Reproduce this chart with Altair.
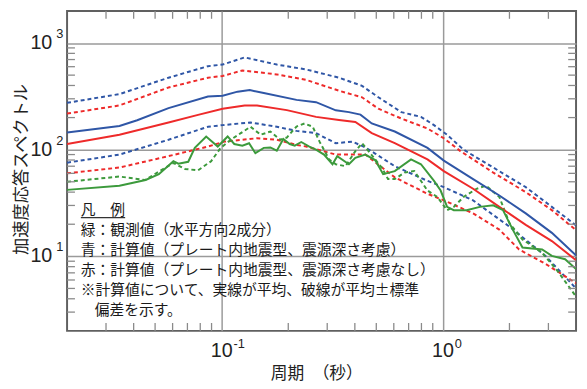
import altair as alt
import pandas as pd

W, H = 517, 325

# ---- data (period [s], spectrum) ----
green_mean_T = [0.02, 0.0345, 0.0453, 0.052, 0.0605, 0.0637, 0.0706, 0.0756, 0.0851, 0.096, 0.1064, 0.114, 0.124,
                0.133, 0.142, 0.155, 0.166, 0.1775, 0.190, 0.203, 0.214, 0.229, 0.249, 0.267, 0.29, 0.317, 0.333,
                0.376, 0.402, 0.446, 0.494, 0.537, 0.606, 0.718, 0.796, 0.912, 0.977, 1.045, 1.12, 1.28, 1.47,
                1.69, 1.87, 2.07, 2.29, 2.81, 3.11, 3.57, 4.0]
green_mean_V = [42, 46, 52, 59, 78, 74, 77, 104, 133, 107, 133, 113, 109,
                115, 93, 104, 105, 98, 126, 113, 109, 118, 107, 100, 90, 73, 87,
                73, 84, 90, 80, 59, 63, 81, 73, 51, 41.4, 29.1, 27.1, 27.1, 29.1,
                30.1, 27.1, 17.8, 12.1, 11.6, 10.1, 9.4, 7.6]

green_sd_T = [0.02, 0.0345, 0.045, 0.0605, 0.0682, 0.0782, 0.0896, 0.099, 0.110, 0.122, 0.135, 0.150, 0.166,
              0.184, 0.197, 0.218, 0.237, 0.258, 0.277, 0.306, 0.328, 0.363, 0.402, 0.431, 0.461, 0.529, 0.565,
              0.606, 0.671, 0.743, 0.852, 0.944, 1.045, 1.12, 1.24, 1.42, 1.57, 1.80, 2.00, 2.29, 2.81, 3.33, 4.0]
green_sd_V = [50, 56, 52, 75, 66, 64, 78, 104, 124, 143, 164, 138, 148,
              124, 130, 165, 176, 164, 119, 81, 73, 70, 97, 115, 97, 68, 53,
              53, 61, 63, 41.4, 36, 27.1, 29.1, 36, 43, 46, 36, 20.5, 14.4, 10.8, 7.1, 4.2]

blue_mean_T = [0.02, 0.0345, 0.0415, 0.0575, 0.0867, 0.101, 0.118, 0.134, 0.155, 0.218, 0.267, 0.328, 0.376,
               0.424, 0.477, 0.606, 0.852, 1.01, 1.37, 1.80, 2.37, 3.11, 4.0]
blue_mean_V = [145, 167, 189, 245, 315, 321, 350, 362, 340, 293, 279, 234, 225,
               213, 176, 148, 104, 79, 53, 37.2, 25.3, 16.6, 10.2]

blue_up_T = [0.02, 0.0345, 0.0575, 0.0867, 0.101, 0.127, 0.1775, 0.241, 0.339, 0.431, 0.511, 0.649, 0.796,
             0.912, 1.045, 1.24, 1.69, 2.37, 3.11, 4.0]
blue_up_V = [275, 332, 473, 607, 628, 734, 628, 565, 473, 397, 310, 225, 203,
             170, 138, 100, 68, 44.5, 29.1, 19.5]

blue_lo_T = [0.02, 0.0345, 0.0575, 0.0867, 0.101, 0.135, 0.1775, 0.218, 0.267, 0.328, 0.39, 0.446, 0.494,
             0.606, 0.852, 1.01, 1.37, 1.69, 2.0, 2.91, 4.0]
blue_lo_V = [75.5, 90, 124, 164, 170, 180, 164, 150, 143, 115, 119, 105, 92,
             70, 51, 44.5, 33.5, 24.4, 19, 10.1, 5.0]

red_mean_T = [0.02, 0.0345, 0.0575, 0.0782, 0.101, 0.127, 0.1445, 0.197, 0.267, 0.339, 0.402, 0.477, 0.606,
              0.852, 1.01, 1.37, 1.80, 2.37, 3.11, 4.0]
red_mean_V = [113, 138, 180, 212, 242, 260, 260, 235, 203, 190, 182, 143, 115,
              81, 63, 43, 29.1, 19.7, 13.9, 9.2]

red_up_T = [0.02, 0.0345, 0.0575, 0.0867, 0.101, 0.124, 0.1775, 0.241, 0.339, 0.431, 0.511, 0.649, 0.852,
            1.01, 1.20, 1.69, 2.37, 3.11, 4.0]
red_up_V = [218, 260, 383, 473, 491, 553, 508, 451, 357, 310, 242, 196, 158,
            128, 97, 61, 40, 27.1, 17.6]

red_lo_T = [0.02, 0.0345, 0.0575, 0.0867, 0.1028, 0.1445, 0.1775, 0.218, 0.241, 0.328, 0.446, 0.606, 0.852,
            1.01, 1.37, 1.80, 2.21, 2.91, 4.0]
red_lo_V = [60, 68, 87, 107, 119, 128, 124, 111, 107, 90, 90, 55, 38.6,
            33.5, 25.3, 17.8, 11.6, 8.5, 5.6]

x_decades = [0.1, 1]
x_exps = ["-1", "0"]
y_decades = [10, 100, 1000]
y_exps = ["1", "2", "3"]
x_minor = [0.03, 0.04, 0.05, 0.06, 0.07, 0.08, 0.09, 0.2, 0.3, 0.4, 0.5, 0.6, 0.7, 0.8, 0.9, 2, 3]
y_minor = [3, 4, 5, 6, 7, 8, 9, 20, 30, 40, 50, 60, 70, 80, 90, 200, 300, 400, 500, 600, 700, 800, 900]

legend_lines = ["凡　例",
                "緑：観測値（水平方向2成分）",
                "青：計算値（プレート内地震型、震源深さ考慮）",
                "赤：計算値（プレート内地震型、震源深さ考慮なし）",
                "※計算値について、実線が平均、破線が平均±標準"]
legend_last = "偏差を示す。"
x_title = "周期　（秒）"
y_title = "加速度応答スペクトル"

BLUE = "#2f56a6"
RED = "#ee2a2a"
GREEN = "#3c9a3c"
GRID = "#9a9a9a"
NUMFONT = "Liberation Sans Narrow, Arial Narrow, Liberation Sans"
JPFONT = "Noto Sans CJK JP"

xscale = alt.Scale(type="log", domain=[0.02, 4], nice=False)
yscale = alt.Scale(type="log", domain=[2, 2000], nice=False)
xaxis = alt.Axis(values=x_decades, grid=True, gridColor=GRID, gridWidth=1.5, labels=False,
                 ticks=False, domain=False, title=None)
yaxis = alt.Axis(values=y_decades, grid=True, gridColor=GRID, gridWidth=1.5, labels=False,
                 ticks=False, domain=False, title=None)
X = lambda: alt.X("x:Q", scale=xscale, axis=xaxis)
Y = lambda: alt.Y("y:Q", scale=yscale, axis=yaxis)


def line(T, V, color, dash=None):
    kw = dict(color=color, strokeWidth=2, clip=True)
    if dash:
        kw["strokeDash"] = dash
    return alt.Chart(pd.DataFrame({"x": T, "y": V})).mark_line(**kw).encode(x=X(), y=Y())


D = [4, 3]
layers = [
    line(blue_up_T, blue_up_V, BLUE, D),
    line(blue_lo_T, blue_lo_V, BLUE, D),
    line(red_up_T, red_up_V, RED, D),
    line(red_lo_T, red_lo_V, RED, D),
    line(green_sd_T, green_sd_V, GREEN, D),
    line(blue_mean_T, blue_mean_V, BLUE),
    line(red_mean_T, red_mean_V, RED),
    line(green_mean_T, green_mean_V, GREEN),
]

# minor ticks (inside)
TL = 8
tick_style = dict(color="#8a8a8a", strokeWidth=1.3)
xm = pd.DataFrame({"x": x_minor})
ym = pd.DataFrame({"y": y_minor})
layers += [
    alt.Chart(xm).mark_rule(**tick_style).encode(x=X(), y=alt.value(H), y2=alt.value(H - TL)),
    alt.Chart(xm).mark_rule(**tick_style).encode(x=X(), y=alt.value(0), y2=alt.value(TL)),
    alt.Chart(ym).mark_rule(**tick_style).encode(y=Y(), x=alt.value(0), x2=alt.value(TL)),
    alt.Chart(ym).mark_rule(**tick_style).encode(y=Y(), x=alt.value(W), x2=alt.value(W - TL)),
]

# tick labels 10^n
xl = pd.DataFrame({"x": x_decades, "t": ["10"] * len(x_decades), "e": x_exps})
yl = pd.DataFrame({"y": y_decades, "t": ["10"] * len(y_decades), "e": y_exps})
layers += [
    alt.Chart(xl).mark_text(align="center", baseline="middle", fontSize=20, font=NUMFONT, color="#222")
    .encode(x=X(), y=alt.value(H + 21), text="t:N"),
    alt.Chart(xl).mark_text(align="left", baseline="middle", fontSize=13, font=NUMFONT, color="#222", dx=12)
    .encode(x=X(), y=alt.value(H + 13), text="e:N"),
    alt.Chart(yl).mark_text(align="right", baseline="middle", fontSize=20, font=NUMFONT, color="#222")
    .encode(y=Y(), x=alt.value(-15), text="t:N"),
    alt.Chart(yl).mark_text(align="left", baseline="middle", fontSize=13, font=NUMFONT, color="#222", dy=-9)
    .encode(y=Y(), x=alt.value(-11), text="e:N"),
]

one = pd.DataFrame({"a": [0]})
# axis titles
layers += [
    alt.Chart(one).mark_text(align="left", baseline="middle", fontSize=17, font=JPFONT, color="#222",
                             text=x_title)
    .encode(x=alt.value(207), y=alt.value(369)),
    alt.Chart(one).mark_text(align="center", baseline="middle", fontSize=17.5, font=JPFONT, color="#222",
                             angle=270, text=y_title)
    .encode(x=alt.value(-46), y=alt.value(161)),
]

# legend note
layers += [
    alt.Chart(one).mark_text(align="left", baseline="top", fontSize=15, font=JPFONT, color="#1a1a1a",
                             lineHeight=20.3, text=legend_lines)
    .encode(x=alt.value(14), y=alt.value(195)),
    alt.Chart(one).mark_text(align="left", baseline="top", fontSize=15, font=JPFONT, color="#1a1a1a",
                             text=legend_last)
    .encode(x=alt.value(28), y=alt.value(195 + 5 * 20.3)),
    alt.Chart(one).mark_rule(color="#333", strokeWidth=1.2)
    .encode(x=alt.value(14), x2=alt.value(59), y=alt.value(210)),
]

chart = alt.layer(*layers).properties(
    width=W, height=H,
    autosize=alt.AutoSizeParams(type="none"),
    padding={"left": 60, "top": 0, "right": 3, "bottom": 52},
).configure_view(stroke="#606060", strokeWidth=2)

chart.save("out.html", embed_options={"renderer": "svg", "actions": False})
